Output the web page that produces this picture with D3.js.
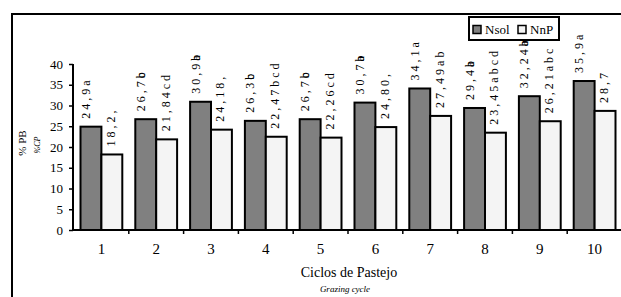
<!DOCTYPE html>
<html>
<head>
<meta charset="utf-8">
<script src="https://cdn.jsdelivr.net/npm/d3@7"></script>
<style>
  body { margin: 0; background: #fff; }
  svg text { font-family: "Liberation Serif", "DejaVu Serif", serif; }
</style>
</head>
<body>
<div id="chart"></div>
<script>
// data
const cycles = ["1", "2", "3", "4", "5", "6", "7", "8", "9", "10"];
const series = ["Nsol", "NnP"];
const nsol = [24.9, 26.7, 30.9, 26.3, 26.7, 30.7, 34.1, 29.4, 32.24, 35.9];
const nnp = [18.2, 21.84, 24.18, 22.47, 22.26, 24.8, 27.49, 23.45, 26.21, 28.7];
const nsolNums = ["24,9", "26,7", "30,9", "26,3", "26,7", "30,7", "34,1", "29,4", "32,24", "35,9"];
const nsolLetters = ["a", "bc", "ab", "bc", "bc", "ab", "a", "ab", "ab", "a"];
const nnpLabels = ["18,2,", "21,84cd", "24,18,", "22,47bcd", "22,26cd", "24,80,", "27,49ab", "23,45abcd", "26,21abc", "28,7"];
const yTicks = [0, 5, 10, 15, 20, 25, 30, 35, 40];

const width = 621;
const height = 297;
const serif = "'Liberation Serif', 'DejaVu Serif', serif";

const svg = d3
  .select("#chart")
  .append("svg")
  .attr("width", width)
  .attr("height", height);

// outer frame, clipped by the picture on the right and bottom
svg.append("rect")
  .attr("x", 12).attr("y", 14)
  .attr("width", 700).attr("height", 400)
  .attr("fill", "none")
  .attr("stroke", "#000")
  .attr("stroke-width", 2);

const y = d3.scaleLinear().domain([0, 40]).range([230, 64]);
const x0 = d3.scaleBand().domain(cycles).range([74, 622]);
const step = x0.step();
const x1 = d3.scaleBand().domain(series).range([6.5, step - 6.5]);

const rows = cycles.map((c, i) => ({
  cycle: c,
  values: [
    { key: "Nsol", value: nsol[i], label: nsolNums[i], letters: nsolLetters[i] },
    { key: "NnP", value: nnp[i], label: nnpLabels[i] },
  ],
}));

const colour = d3.scaleOrdinal().domain(series).range(["#808080", "#f4f4f4"]);

// bars
const groups = svg.append("g")
  .selectAll("g")
  .data(rows)
  .join("g")
  .attr("transform", (d) => `translate(${x0(d.cycle)},0)`);

groups.selectAll("rect")
  .data((d) => d.values)
  .join("rect")
  .attr("x", (d) => x1(d.key))
  .attr("y", (d) => y(d.value))
  .attr("width", x1.bandwidth())
  .attr("height", (d) => y(0) - y(d.value))
  .attr("fill", (d) => colour(d.key))
  .attr("stroke", "#000")
  .attr("stroke-width", 2);

// rotated value labels
const labelPos = (d) => {
  const cx = x1(d.key) + x1.bandwidth() / 2 + (d.key === "Nsol" ? -1 : 3);
  return `translate(${cx},${y(d.value) - 8}) rotate(-90)`;
};

groups.selectAll("text.val")
  .data((d) => d.values)
  .join("text")
  .attr("class", "val")
  .attr("transform", labelPos)
  .attr("font-family", serif)
  .attr("font-size", 12)
  .attr("letter-spacing", 3)
  .attr("fill", "#000")
  .text((d) => d.key === "Nsol" ? d.label + d.letters[0] : d.label);

// the extra significance letters of Nsol sit on top of the first one
groups.selectAll("text.extra")
  .data((d) => d.values.filter((v) => v.key === "Nsol" && v.letters.length > 1))
  .join("text")
  .attr("class", "extra")
  .attr("transform", labelPos)
  .attr("font-family", serif)
  .attr("font-size", 12)
  .attr("letter-spacing", 3)
  .attr("fill", "#000")
  .attr("dx", function (d) {
    const probe = svg.append("text")
      .attr("font-family", serif).attr("font-size", 12).attr("letter-spacing", 3)
      .text(d.label);
    const w = probe.node().getComputedTextLength();
    probe.remove();
    return w;
  })
  .text((d) => d.letters.slice(1));

// y axis
const yAxis = svg.append("g")
  .attr("transform", "translate(73,0)")
  .call(d3.axisLeft(y).tickValues(yTicks).tickSize(4).tickPadding(6));
yAxis.attr("font-family", serif).attr("font-size", 13);
yAxis.select(".domain").attr("stroke-width", 2).attr("d", `M0,${y(40)}V${y(0)}`);
yAxis.selectAll(".tick line").attr("stroke-width", 1.5);
yAxis.selectAll(".tick text").attr("fill", "#000");

// x axis with ticks between categories
const xAxis = svg.append("g");
xAxis.append("line")
  .attr("x1", 73).attr("x2", 622)
  .attr("y1", y(0)).attr("y2", y(0))
  .attr("stroke", "#000").attr("stroke-width", 2);
xAxis.selectAll(".tk")
  .data(cycles.slice(1))
  .join("line")
  .attr("class", "tk")
  .attr("x1", (d) => x0(d)).attr("x2", (d) => x0(d))
  .attr("y1", y(0)).attr("y2", y(0) + 4)
  .attr("stroke", "#000").attr("stroke-width", 1.5);
xAxis.selectAll("text")
  .data(cycles)
  .join("text")
  .attr("x", (d) => x0(d) + step / 2)
  .attr("y", 254)
  .attr("text-anchor", "middle")
  .attr("font-family", serif)
  .attr("font-size", 15)
  .text((d) => d);

// axis titles
svg.append("text")
  .attr("transform", "translate(26,143) rotate(-90)")
  .attr("text-anchor", "middle")
  .attr("font-family", serif)
  .attr("font-size", 11)
  .text("% PB");
svg.append("text")
  .attr("transform", "translate(40,145) rotate(-90)")
  .attr("text-anchor", "middle")
  .attr("font-family", serif)
  .attr("font-size", 8)
  .attr("font-style", "italic")
  .text("%CP");

svg.append("text")
  .attr("x", 349).attr("y", 277)
  .attr("text-anchor", "middle")
  .attr("font-family", serif)
  .attr("font-size", 14)
  .text("Ciclos de Pastejo");
svg.append("text")
  .attr("x", 345).attr("y", 292)
  .attr("text-anchor", "middle")
  .attr("font-family", serif)
  .attr("font-size", 9)
  .attr("font-style", "italic")
  .text("Grazing cycle");

// legend
const legend = svg.append("g").attr("transform", "translate(469,17)");
legend.append("rect")
  .attr("width", 90).attr("height", 23)
  .attr("fill", "#fff")
  .attr("stroke", "#000").attr("stroke-width", 2);
const items = legend.selectAll("g")
  .data(series)
  .join("g")
  .attr("transform", (d, i) => `translate(${4 + i * 45},8.5)`);
items.append("rect")
  .attr("width", 8).attr("height", 8)
  .attr("fill", (d) => colour(d))
  .attr("stroke", "#000").attr("stroke-width", 1.5);
items.append("text")
  .attr("x", 12).attr("y", 8.5)
  .attr("font-family", serif)
  .attr("font-size", 13)
  .text((d) => d);
</script>
</body>
</html>
